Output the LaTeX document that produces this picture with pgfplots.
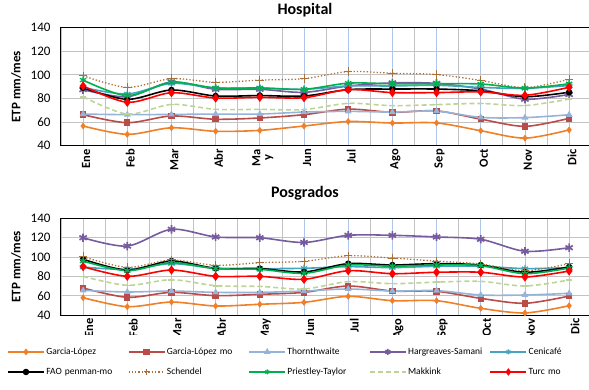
\documentclass[border=0pt]{standalone}
\usepackage{fontspec}
\setmainfont{Carlito}
\usepackage{pgfplots}
\usepackage{pgfplotstable}
\pgfplotsset{compat=1.18}

\definecolor{cGL}{RGB}{240,128,40}
\definecolor{cGLmo}{RGB}{185,75,72}
\definecolor{cTh}{RGB}{150,180,216}
\definecolor{cHS}{RGB}{118,92,158}
\definecolor{cCe}{RGB}{70,165,190}
\definecolor{cSch}{RGB}{170,112,60}
\definecolor{cPT}{RGB}{0,176,80}
\definecolor{cMak}{RGB}{190,212,150}
\definecolor{cGrid}{RGB}{195,195,195}
\definecolor{cGridB}{RGB}{175,198,236}

\pgfplotstableread{
x GL GLmo Th HS Ce FAO Sch PT Mak Turc
0 56.7 66.3 66.8 87.5 89.4 89.1 99.3 95.6 81.5 90.6
1 49.6 59.5 66.3 81.5 83.8 79.3 89.4 82.4 66.8 76.8
2 55.2 65.2 66.5 94.0 92.8 87.2 96.8 93.7 75.0 84.9
3 52.2 62.4 66.8 87.8 88.9 82.1 93.7 88.9 70.8 80.4
4 53.0 63.5 66.8 87.8 88.9 82.5 95.6 88.9 70.8 81.0
5 56.7 66.3 68.5 85.2 87.8 82.1 96.8 87.8 70.6 80.7
6 60.5 71.0 69.1 90.6 90.6 87.5 102.8 93.0 75.9 87.5
7 59.2 68.3 68.5 93.2 90.6 88.0 101.4 92.5 73.9 85.0
8 59.3 69.5 69.3 92.8 91.2 88.0 100.3 92.5 74.8 85.0
9 52.7 62.5 64.0 88.0 89.4 86.5 95.3 92.3 75.8 85.6
10 46.4 56.4 63.8 79.4 88.6 81.5 89.2 88.8 74.0 82.7
11 53.4 63.2 66.2 83.4 91.0 85.3 96.3 92.5 79.5 89.5
}\hosp

\pgfplotstableread{
x GL GLmo Th HS Ce FAO Sch PT Mak Turc
0 57.9 67.9 65.5 119.9 89.6 97.6 100.3 95.8 80.0 90.0
1 48.6 58.3 63.8 111.3 87.2 86.5 89.3 85.8 70.7 80.0
2 53.4 63.4 64.8 128.6 93.1 95.8 96.9 94.1 76.5 86.5
3 49.3 60.0 63.4 120.7 88.3 88.3 91.4 88.0 70.3 80.0
4 51.1 61.4 63.4 119.9 88.0 88.0 94.1 87.2 69.6 80.0
5 53.1 63.4 64.8 115.0 88.3 84.5 95.5 83.1 66.9 76.9
6 59.3 70.0 66.9 122.4 90.0 93.1 101.3 91.7 74.5 85.8
7 54.8 64.8 64.8 122.4 89.0 91.7 98.9 90.4 72.4 82.7
8 54.8 64.5 65.2 120.7 90.4 93.1 95.8 91.7 74.0 84.2
9 46.9 57.2 60.7 118.3 90.4 91.7 92.7 91.0 74.8 84.2
10 42.1 52.1 60.7 105.9 88.0 84.2 85.8 82.7 70.0 79.3
11 49.6 59.6 62.4 109.6 89.0 89.6 93.1 88.6 76.2 85.5
}\posg

\pgfplotsset{
  sGL/.style={color=cGL, line width=1.6pt, mark=diamond*, mark size=2.2pt, mark options={solid}},
  sGLmo/.style={color=cGLmo, line width=1.6pt, mark=square*, mark size=2.4pt, mark options={solid}},
  sTh/.style={color=cTh, line width=1.6pt, mark=triangle*, mark size=2.4pt, mark options={solid}},
  sHS/.style={color=cHS, line width=1.6pt, mark=asterisk, mark size=4.2pt, mark options={solid, line width=1.7pt}},
  sCe/.style={color=cCe, line width=1.6pt, mark=asterisk, mark size=3.6pt, mark options={solid, line width=1.3pt}},
  sFAO/.style={color=black, line width=1.6pt, mark=*, mark size=2.4pt, mark options={solid}},
  sSch/.style={color=cSch, line width=1.3pt, dash pattern=on 1.3pt off 2pt, mark=+, mark size=4.2pt, mark options={solid, line width=1pt}},
  sPT/.style={color=cPT, line width=1.6pt, mark=asterisk, mark size=3.6pt, mark options={solid, line width=1.3pt}},
  sMak/.style={color=cMak, line width=1.6pt, dash pattern=on 5pt off 3pt, mark=-, mark size=3pt, mark options={solid}},
  sTurc/.style={color=red, line width=1.6pt, mark=diamond*, mark size=3.3pt, mark options={solid}},
  myaxis/.style={
    scale only axis, width=528pt,
    xmin=-0.5, xmax=11.45, ymin=40, ymax=140,
    ytick={40,60,...,140},
    xtick={0,...,11}, minor xtick={-0.5,0.5,...,11.5},
    xmajorgrids, xminorgrids, ymajorgrids,
    major x grid style={cGridB, line width=0.8pt},
    minor x grid style={cGrid, line width=0.8pt},
    major y grid style={cGrid, line width=0.8pt},
    major tick length=0pt, minor tick length=0pt,
    axis line style={black, line width=1pt},
    /pgf/number format/assume math mode=true,
    yticklabel style={font=\fontsize{13}{15}\selectfont, xshift=-7pt},
    xticklabel style={font=\fontsize{12.5}{11}\selectfont\bfseries, rotate=90, anchor=east, align=center, yshift=-3pt},
    every axis y label/.style={at={(axis description cs:0,0.5)}, xshift=-45pt, rotate=90, anchor=center, font=\fontsize{13}{15}\selectfont\bfseries},
    ylabel={ETP mm/mes},
    every axis plot/.append style={smooth, tension=0.5},
  },
}

\begin{document}
\begin{tikzpicture}
\useasboundingbox (0,0) rectangle (589pt,389pt);

\begin{axis}[myaxis, at={(61pt,243.3pt)}, anchor=south west, height=118pt,
  xticklabels={Ene,Feb,Mar,Abr,{Ma\\y},Jun,Jul,Ago,Sep,Oct,Nov,Dic},
  title={Hospital},
  title style={at={(axis description cs:0.462,1)}, anchor=base, yshift=7.5pt, font=\fontsize{16}{18}\selectfont\bfseries}]
\addplot[sGL] table[x=x,y=GL] {\hosp};
\addplot[sGLmo] table[x=x,y=GLmo] {\hosp};
\addplot[sTh] table[x=x,y=Th] {\hosp};
\addplot[sHS] table[x=x,y=HS] {\hosp};
\addplot[sCe] table[x=x,y=Ce] {\hosp};
\addplot[sFAO] table[x=x,y=FAO] {\hosp};
\addplot[sSch] table[x=x,y=Sch] {\hosp};
\addplot[sPT] table[x=x,y=PT] {\hosp};
\addplot[sMak] table[x=x,y=Mak] {\hosp};
\addplot[sTurc] table[x=x,y=Turc] {\hosp};
\end{axis}

\begin{axis}[myaxis, at={(61pt,74pt)}, anchor=south west, height=96.7pt,
  xticklabels={Ene,Feb,Mar,Abr,May,Jun,Jul,Ago,Sep,Oct,Nov,Dic},
  xticklabel style={yshift=-3pt},
  title={Posgrados},
  title style={at={(axis description cs:0.462,1)}, anchor=base, yshift=15pt, font=\fontsize{16}{18}\selectfont\bfseries}]
\addplot[sGL] table[x=x,y=GL] {\posg};
\addplot[sGLmo] table[x=x,y=GLmo] {\posg};
\addplot[sTh] table[x=x,y=Th] {\posg};
\addplot[sHS] table[x=x,y=HS] {\posg};
\addplot[sCe] table[x=x,y=Ce] {\posg};
\addplot[sFAO] table[x=x,y=FAO] {\posg};
\addplot[sSch] table[x=x,y=Sch] {\posg};
\addplot[sPT] table[x=x,y=PT] {\posg};
\addplot[sMak] table[x=x,y=Mak] {\posg};
\addplot[sTurc] table[x=x,y=Turc] {\posg};
\end{axis}

\fill[white] (0,0) rectangle (589pt,54pt);

\begin{axis}[hide axis, scale only axis, at={(7pt,0pt)}, anchor=south west,
  width=560pt, height=52pt, xmin=0, xmax=1, ymin=0, ymax=1,
  legend columns=5,
  legend cell align=left,
  legend image code/.code={\draw[mark repeat=2, mark phase=2, #1] plot coordinates {(0pt,0pt) (18pt,0pt) (36pt,0pt)};},
  legend style={at={(axis description cs:0,0.52)}, anchor=west, draw=none, fill=none, inner sep=0pt,
    font=\fontsize{9.5}{11}\selectfont, row sep=8pt,
    nodes={text width=80pt, inner sep=1.5pt, text height=7pt, text depth=2pt},
    /tikz/every even column/.append style={column sep=0pt}}]
\addlegendimage{sGL}\addlegendentry{Garcia-López}
\addlegendimage{sGLmo}\addlegendentry{Garcia-López mo}
\addlegendimage{sTh}\addlegendentry{Thornthwaite}
\addlegendimage{sHS, mark size=3pt}\addlegendentry{Hargreaves-Samani}
\addlegendimage{sCe, mark size=2.5pt}\addlegendentry{Cenicafé}
\addlegendimage{sFAO}\addlegendentry{FAO penman-mo}
\addlegendimage{sSch, mark size=3pt}\addlegendentry{Schendel}
\addlegendimage{sPT, mark size=2.5pt}\addlegendentry{Priestley-Taylor}
\addlegendimage{sMak, mark=none}\addlegendentry{Makkink}
\addlegendimage{sTurc, mark size=2.5pt}\addlegendentry{Turc mo}
\end{axis}
\end{tikzpicture}
\end{document}
